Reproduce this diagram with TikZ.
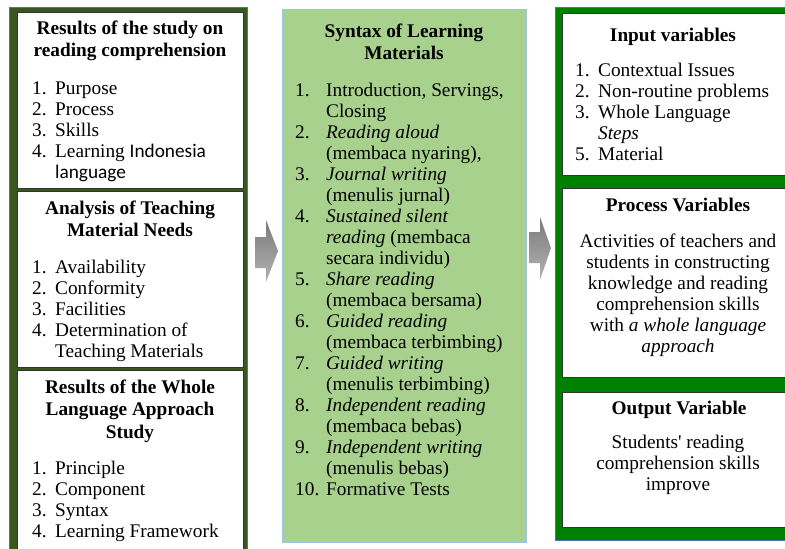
\documentclass[tikz,border=0pt]{standalone}
\usepackage{fontspec}
\setmainfont{Liberation Serif}
\newfontfamily\calibri{Carlito}
\definecolor{darkolive}{RGB}{56,87,35}
\definecolor{lightleaf}{RGB}{169,209,142}
\definecolor{puregreen}{RGB}{0,128,0}
\definecolor{edgeblue}{RGB}{68,114,196}
\definecolor{paleblue}{RGB}{157,195,230}
\newcommand{\itemno}[1]{\makebox[23pt][l]{#1}}
\newcommand{\midno}[1]{\makebox[31pt][l]{#1}}
\tikzset{
  whitebox/.style={draw=black!80, line width=0.8pt, fill=white},
  headtext/.style={inner sep=0pt, align=center, anchor=north,
    font=\bfseries\fontsize{19.3}{22.5}\selectfont},
  bodytext/.style={inner sep=0pt, align=left, anchor=north west,
    font=\fontsize{19.3}{21}\selectfont},
  centretext/.style={inner sep=0pt, align=center, anchor=north,
    font=\fontsize{19.3}{21}\selectfont},
  blockarrow/.style={top color=black!52, bottom color=black!30}
}
\begin{document}
\begin{tikzpicture}[x=1pt,y=-1pt]
            \useasboundingbox (0,0) rectangle (785,549);
            \clip (0,0) rectangle (785,549);
            % panels
            \filldraw [fill=darkolive, draw=edgeblue, line width=0.8pt] (9,7) rectangle (247,560);
            \filldraw [fill=lightleaf, draw=paleblue, line width=0.8pt] (282,9) rectangle (526,542);
            \filldraw [fill=puregreen, draw=edgeblue, line width=0.8pt] (555,7) rectangle (800,540);
            % boxes inside the side panels
            \filldraw [whitebox] (17,12) rectangle (243,188);
            \filldraw [whitebox] (17,191) rectangle (243,367);
            \filldraw [whitebox] (17,370) rectangle (243,560);
            \filldraw [whitebox] (562,13) rectangle (800,175);
            \filldraw [whitebox] (562,188) rectangle (800,377);
            \filldraw [whitebox] (562,392) rectangle (800,527);
            % block arrows
            \shade [blockarrow] (255,237) -- (266,237) -- (266,220) -- (278,251) -- (266,282) -- (266,268) -- (255,268) -- cycle;
            \shade [blockarrow] (529,232) -- (540,232) -- (540,217) -- (551,248) -- (540,280) -- (540,263) -- (529,263) -- cycle;
            % left column
            \node[headtext] (lhead1) at (130,18.3) {\strut Results of the study on\\ reading comprehension};
            \node[bodytext] (lbody1) at (32,79.3) {\strut\itemno{1.}Purpose\\ \itemno{2.}Process\\ \itemno{3.}Skills\\ \itemno{4.}Learning {\calibri Indonesia}\\ \itemno{}{\calibri language}};
            \node[headtext] (lhead2) at (130,198.3) {\strut Analysis of Teaching\\ Material Needs};
            \node[bodytext] (lbody2) at (32,258.3) {\strut\itemno{1.}Availability\\ \itemno{2.}Conformity\\ \itemno{3.}Facilities\\ \itemno{4.}Determination of\\ \itemno{}Teaching Materials};
            \node[headtext] (lhead3) at (130,377.3) {\strut Results of the Whole\\ Language Approach\\ Study};
            \node[bodytext] (lbody3) at (32,459.3) {\strut\itemno{1.}Principle\\ \itemno{2.}Component\\ \itemno{3.}Syntax\\ \itemno{4.}Learning Framework};
            % middle column
            \node[headtext] (mhead) at (404,21.3) {\strut Syntax of Learning\\ Materials};
            \node[bodytext] (mbody) at (295,81.3) {\strut\midno{1.}Introduction, Servings,\\ \midno{}Closing\\
              \midno{2.}\textit{Reading aloud}\\ \midno{}(membaca nyaring),\\
              \midno{3.}\textit{Journal writing}\\ \midno{}(menulis jurnal)\\
              \midno{4.}\textit{Sustained silent}\\ \midno{}\textit{reading} (membaca\\ \midno{}secara individu)\\
              \midno{5.}\textit{Share reading}\\ \midno{}(membaca bersama)\\
              \midno{6.}\textit{Guided reading}\\ \midno{}(membaca terbimbing)\\
              \midno{7.}\textit{Guided writing}\\ \midno{}(menulis terbimbing)\\
              \midno{8.}\textit{Independent reading}\\ \midno{}(membaca bebas)\\
              \midno{9.}\textit{Independent writing}\\ \midno{}(menulis bebas)\\
              \midno{10.}Formative Tests};
            % right column
            \node[headtext] (rhead1) at (673,25.3) {\strut Input variables};
            \node[bodytext] (rbody1) at (575,61.3) {\strut\itemno{1.}Contextual Issues\\ \itemno{2.}Non-routine problems\\ \itemno{3.}Whole Language\\ \itemno{}\textit{Steps}\\ \itemno{5.}Material};
            \node[headtext] (rhead2) at (678,195.3) {\strut Process Variables};
            \node[centretext] (rbody2) at (678,232.3) {\strut Activities of teachers and\\ students in constructing\\ knowledge and reading\\ comprehension skills\\ with \textit{a whole language}\\ \textit{approach}};
            \node[headtext] (rhead3) at (679,398.3) {\strut Output Variable};
            \node[centretext] (rbody3) at (678,433.3) {\strut Students\textquotesingle\ reading\\ comprehension skills\\ improve};
        \end{tikzpicture}
\end{document}
